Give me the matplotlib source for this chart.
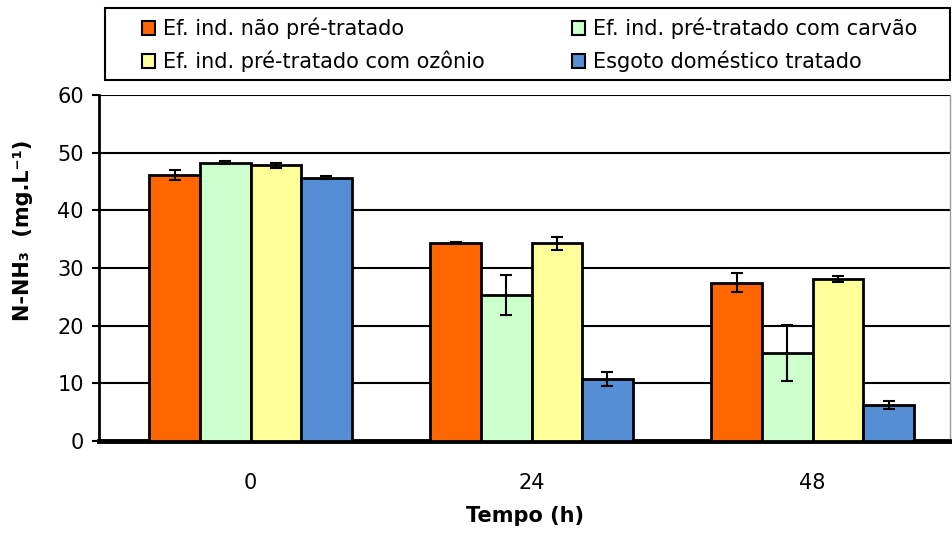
import matplotlib
matplotlib.use("Agg")
import matplotlib.pyplot as plt
from matplotlib.patches import Rectangle
import numpy as np

plt.rcParams['font.family'] = ['DejaVu Sans']

categories = ["0", "24", "48"]
series_names = ["Ef. ind. não pré-tratado", "Ef. ind. pré-tratado com carvão",
                "Ef. ind. pré-tratado com ozônio", "Esgoto doméstico tratado"]
nao_tratado = [46.1, 34.3, 27.5]
nao_tratado_err = [0.9, 0.15, 1.6]
carvao = [48.3, 25.3, 15.3]
carvao_err = [0.3, 3.5, 4.8]
ozonio = [47.8, 34.3, 28.1]
ozonio_err = [0.5, 1.1, 0.5]
esgoto = [45.7, 10.8, 6.3]
esgoto_err = [0.2, 1.25, 0.7]
colors = ["#FF6600", "#CCFFCC", "#FFFF99", "#558ED5"]

values = [nao_tratado, carvao, ozonio, esgoto]
errors = [nao_tratado_err, carvao_err, ozonio_err, esgoto_err]

FS = 15

fig = plt.figure(figsize=(9.52, 5.4), dpi=100)
ax = fig.add_axes([0.104, 0.183, 0.894, 0.641])

x = np.arange(len(categories))
w = 0.18
handles = []
for i, (v, e, c) in enumerate(zip(values, errors, colors)):
    pos = x + (i - 1.5) * w
    b = ax.bar(pos, v, w, color=c, edgecolor="black", linewidth=2, zorder=3,
               label=series_names[i])
    ax.errorbar(pos, v, yerr=e, fmt="none", ecolor="black", elinewidth=1.5,
                capsize=4.5, capthick=1.5, zorder=4)
    handles.append(b)

ax.set_xlim(-0.539, 2.489)
ax.set_ylim(0, 60)
ax.set_yticks(np.arange(0, 61, 10))
ax.set_xticks(x)
ax.set_xticklabels(categories)
ax.tick_params(axis='x', length=0, labelsize=FS, pad=23)
ax.tick_params(axis='y', length=5, width=1.5, labelsize=FS, direction='out', pad=6)
ax.yaxis.grid(True, color="black", linewidth=1.5, zorder=0)
ax.set_axisbelow(True)
ax.spines["top"].set_visible(False)
ax.spines["right"].set_color("#999999")
ax.spines["right"].set_linewidth(1)
ax.spines["left"].set_linewidth(2)
ax.spines["bottom"].set_linewidth(3.5)

ax.set_xlabel("Tempo (h)", fontsize=FS, fontweight="bold", labelpad=9)
ax.set_ylabel("N-NH\u2083  (mg.L\u207b\u00b9)", fontsize=FS, fontweight="bold")
ax.yaxis.set_label_coords(-0.078, 0.61)

# legend frame
W, H = 952.0, 540.0
fig.patches.append(Rectangle((105 / W, 1 - 80 / H), (950 - 105) / W, 72 / H,
                             transform=fig.transFigure, fill=False,
                             edgecolor="black", linewidth=1.5, zorder=5))

common = dict(loc="center left", fontsize=FS, frameon=False,
              handlelength=0.6, handleheight=0.6, handletextpad=0.4,
              borderpad=0, borderaxespad=0, labelspacing=0.55)
leg1 = fig.legend([handles[0], handles[2]], [series_names[0], series_names[2]],
                  bbox_to_anchor=(142 / W, 1 - 45 / H), **common)
leg2 = fig.legend([handles[1], handles[3]], [series_names[1], series_names[3]],
                  bbox_to_anchor=(572 / W, 1 - 45 / H), **common)
for lg in (leg1, leg2):
    for h in lg.legend_handles:
        h.set_linewidth(1.5)
        h.set_edgecolor("black")

fig.savefig("out.png", dpi=100)
